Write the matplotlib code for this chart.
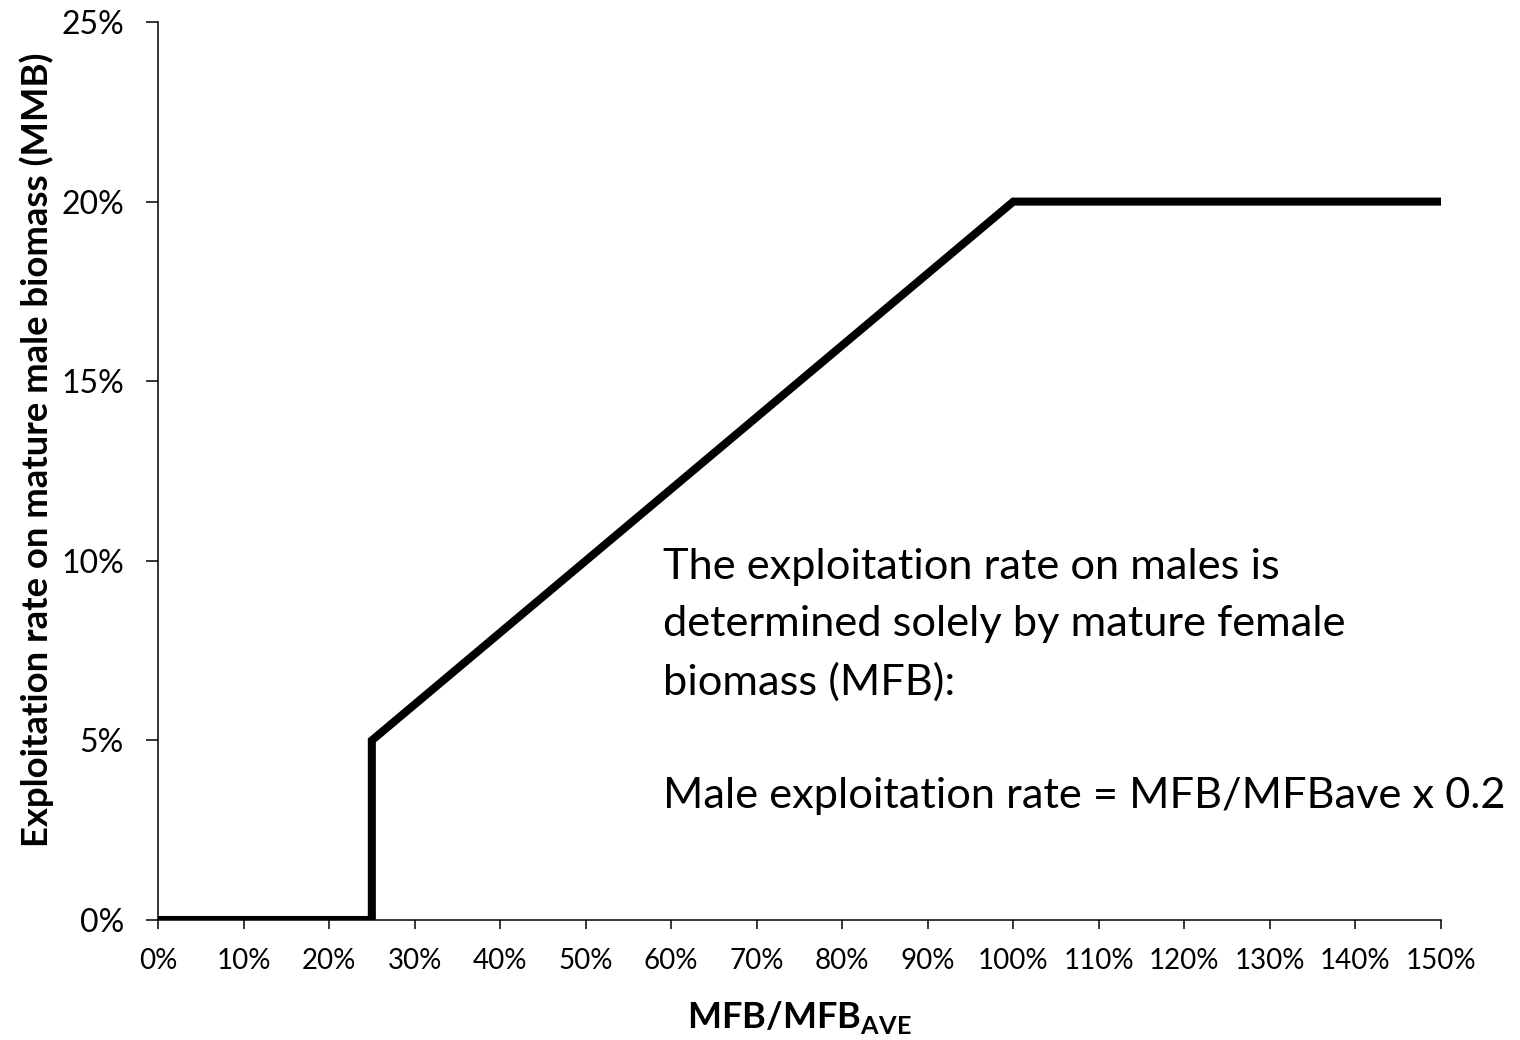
import matplotlib
matplotlib.use("Agg")
import matplotlib.pyplot as plt
from matplotlib.ticker import MultipleLocator, PercentFormatter

plt.rcParams['font.family'] = ['Lato', 'DejaVu Sans']
plt.rcParams['mathtext.fontset'] = 'custom'
plt.rcParams['mathtext.rm'] = 'Lato'
plt.rcParams['mathtext.bf'] = 'Lato:bold'

# Data: MFB/MFB_AVE (fraction) vs male exploitation rate (fraction)
mfb_ratio = [0.00, 0.05, 0.10, 0.15, 0.20, 0.25, 0.25, 0.30, 0.35, 0.40, 0.45,
             0.50, 0.55, 0.60, 0.65, 0.70, 0.75, 0.80, 0.85, 0.90, 0.95, 1.00,
             1.05, 1.10, 1.15, 1.20, 1.25, 1.30, 1.35, 1.40, 1.45, 1.50]
exploit_rate = [0.00, 0.00, 0.00, 0.00, 0.00, 0.00, 0.05, 0.06, 0.07, 0.08, 0.09,
                0.10, 0.11, 0.12, 0.13, 0.14, 0.15, 0.16, 0.17, 0.18, 0.19, 0.20,
                0.20, 0.20, 0.20, 0.20, 0.20, 0.20, 0.20, 0.20, 0.20, 0.20]

x_label = r'$\mathbf{MFB/MFB}_{\mathbf{AVE}}$'
y_label = 'Exploitation rate on mature male biomass (MMB)'
note = ("The exploitation rate on males is\n"
        "determined solely by mature female\n"
        "biomass (MFB):\n"
        "\n"
        "Male exploitation rate = MFB/MFBave x 0.2")

fig = plt.figure(figsize=(15.2, 10.4), dpi=100)
ax = fig.add_axes([158/1520, 120/1040, (1441-158)/1520, (920-22)/1040])

ax.plot(mfb_ratio, exploit_rate, color='black', linewidth=5.8,
        solid_joinstyle='miter', solid_capstyle='butt', clip_on=True)

ax.set_xlim(0, 1.5)
ax.set_ylim(0, 0.25)
ax.xaxis.set_major_locator(MultipleLocator(0.1))
ax.yaxis.set_major_locator(MultipleLocator(0.05))
ax.xaxis.set_major_formatter(PercentFormatter(1.0, decimals=0))
ax.yaxis.set_major_formatter(PercentFormatter(1.0, decimals=0))

for s in ['top', 'right']:
    ax.spines[s].set_visible(False)
for s in ['left', 'bottom']:
    ax.spines[s].set_linewidth(1.1)
    ax.spines[s].set_color('black')

ax.tick_params(axis='x', direction='out', length=6.5, width=1.1, pad=14,
               labelsize=20, colors='black')
ax.tick_params(axis='y', direction='out', length=8.6, width=1.1, pad=16,
               labelsize=23, colors='black')

ax.text(0.5, (920-1028)/898, x_label, transform=ax.transAxes, ha='center',
        va='baseline', fontsize=26)

ax.text((37-158)/1283, (920-450)/898, y_label, transform=ax.transAxes,
        rotation=90, ha='center', va='center', fontsize=26.3, fontweight='bold')

ax.text((663-158)/1283*1.5, (920-548)/898*0.25, note, ha='left', va='top',
        fontsize=31.2, linespacing=1.6)

fig.savefig('out.png', dpi=100)
